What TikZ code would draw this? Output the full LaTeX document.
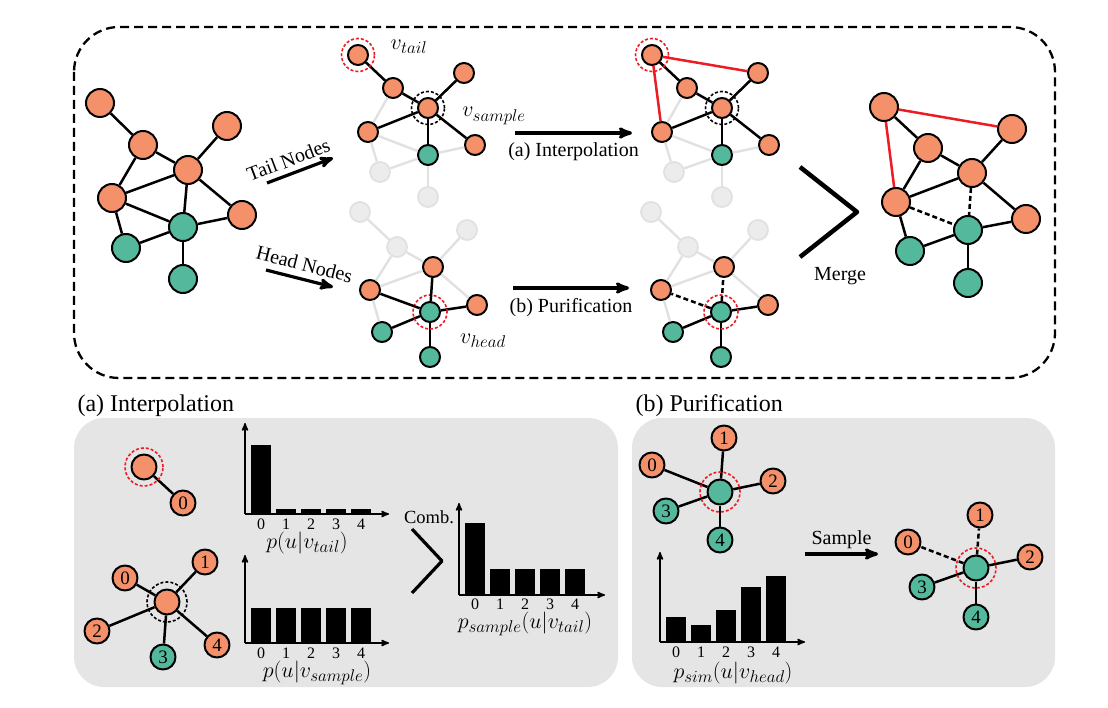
\RequirePackage{fix-cm}
\documentclass[tikz,border=0pt]{standalone}
\usepackage{fontspec}
\setmainfont{Liberation Serif}
\usepackage{amsmath}
\usepackage{tikz}
\usetikzlibrary{arrows}
\DeclareMathSizes{22}{22}{17}{13}

\definecolor{nodeorange}{RGB}{244,145,107}
\definecolor{nodegreen}{RGB}{84,185,156}
\definecolor{fadefill}{RGB}{236,236,236}
\definecolor{fadeline}{RGB}{225,225,225}
\definecolor{panelgray}{RGB}{229,229,229}
\definecolor{hlred}{RGB}{236,28,36}

\begin{document}
\begin{tikzpicture}[x=1pt,y=-1pt,>=stealth',line join=round,
                    font=\fontsize{20}{24}\selectfont]
  \tikzset{onode/.style={circle,draw,line width=2pt,fill=nodeorange,inner sep=0pt,
             font=\fontsize{19}{19}\selectfont},
           gnode/.style={onode,fill=nodegreen},
           fnode/.style={circle,draw=fadeline,line width=1.8pt,fill=fadefill,inner sep=0pt},
           lg/.style={minimum size=28pt}, md/.style={minimum size=25pt},
           sm/.style={minimum size=20pt},
           lk/.style={every edge/.style={draw,line width=2.5pt}},
           fk/.style={every edge/.style={draw=fadeline,line width=2.4pt}},
           rk/.style={every edge/.style={draw=hlred,line width=2.5pt}},
           dk/.style={every edge/.style={draw,line width=2.5pt,dash pattern=on 5pt off 3pt}},
           ring/.style={line width=1.6pt,dash pattern=on 3pt off 2pt},
           bigarrow/.style={->,line width=3.2pt},
           axis/.style={->,line width=1.6pt},
           tick/.style={font=\fontsize{16}{16}\selectfont,inner sep=0pt},
           mlabel/.style={font=\fontsize{22}{24}\selectfont,inner sep=1pt}}
  \useasboundingbox (0,0) rectangle (1108,708);

  % frame and panels
  \draw[line width=2.3pt,dash pattern=on 9pt off 5pt,rounded corners=45pt]
       (74,27) rectangle (1055,378);
  \fill[panelgray,rounded corners=30pt] (74,418) rectangle (618,687);
  \fill[panelgray,rounded corners=30pt] (632,418) rectangle (1055,687);
  \node[anchor=base west,font=\fontsize{24}{28}\selectfont] (ta) at (74,411) {(a) Interpolation};
  \node[anchor=base west,font=\fontsize{24}{28}\selectfont] (tb) at (632,411) {(b) Purification};

  % original graph
  \node[onode,lg] (a) at (100,103) {};
  \node[onode,lg] (b) at (143,145) {};
  \node[onode,lg] (c) at (227,126) {};
  \node[onode,lg] (d) at (188,170) {};
  \node[onode,lg] (e) at (112,198) {};
  \node[onode,lg] (f) at (242,215) {};
  \node[gnode,lg] (g) at (183,227) {};
  \node[gnode,lg] (h) at (126,248) {};
  \node[gnode,lg] (i) at (183,279) {};
  \path[lk] (a) edge (b) (b) edge (d) (d) edge (c) (b) edge (e) (e) edge (d) (d) edge (g)
            (d) edge (f) (e) edge (g) (e) edge (h) (h) edge (g) (g) edge (f) (g) edge (i);

  \coordinate (tn1) at (267,183); \coordinate (tn2) at (333,158);
  \coordinate (hn1) at (266,270); \coordinate (hn2) at (333,287);
  \draw[bigarrow] (tn1) -- node[pos=0.4,sloped,above=2pt] {Tail Nodes} (tn2);
  \draw[bigarrow] (hn1) -- node[pos=0.52,sloped,above=3pt] {Head Nodes} (hn2);

  % tail nodes graphs
  \foreach \dx/\p in {0/tm,294/tr}{
  \begin{scope}[xshift=\dx,name prefix=\p-]
    \node[fnode,sm] (h) at (380,172) {};
    \node[fnode,sm] (i) at (428,197) {};
    \node[onode,sm] (a) at (358,55) {};
    \node[onode,sm] (b) at (393,88) {};
    \node[onode,sm] (c) at (464,73) {};
    \node[onode,sm] (d) at (428,108) {};
    \node[onode,sm] (e) at (368,132) {};
    \node[onode,sm] (f) at (475,145) {};
    \node[gnode,sm] (g) at (428,155) {};
    \path[fk] (b) edge (e) (e) edge (g) (e) edge (h) (h) edge (g) (g) edge (f) (g) edge (i);
    \path[lk] (a) edge (b) (b) edge (d) (d) edge (c) (d) edge (e) (d) edge (f) (d) edge (g);
    \draw[ring,hlred] (a) circle (16.5pt);
    \draw[ring] (d) circle (16.5pt);
  \end{scope}}
  \path[rk] (tr-a) edge (tr-c) (tr-a) edge (tr-e);

  % head nodes graphs
  \foreach \dx/\p in {0/hm,291/hr}{
  \begin{scope}[xshift=\dx,name prefix=\p-]
    \node[fnode,sm] (a) at (360,212) {};
    \node[fnode,sm] (b) at (397,247) {};
    \node[fnode,sm] (c) at (467,230) {};
    \node[onode,sm] (d) at (433,267) {};
    \node[onode,sm] (e) at (370,290) {};
    \node[onode,sm] (f) at (477,305) {};
    \node[gnode,sm] (g) at (430,312) {};
    \node[gnode,sm] (h) at (382,332) {};
    \node[gnode,sm] (i) at (430,357) {};
    \path[fk] (a) edge (b) (b) edge (d) (d) edge (c) (b) edge (e) (e) edge (d) (d) edge (f)
              (e) edge (h);
    \path[lk] (g) edge (f) (g) edge (h) (g) edge (i);
    \draw[ring,hlred] (g) circle (17pt);
  \end{scope}}
  \path[lk] (hm-g) edge (hm-d) (hm-g) edge (hm-e);
  \path[dk] (hr-g) edge (hr-d) (hr-g) edge (hr-e);

  \node[mlabel] (vt) at (409,47) {$v_{tail}$};
  \node[mlabel] (vs) at (494,116) {$v_{sample}$};
  \node[mlabel] (vh) at (483,341) {$v_{head}$};

  \coordinate (ia1) at (515,133); \coordinate (ia2) at (632,133);
  \coordinate (pb1) at (513,288); \coordinate (pb2) at (629,288);
  \draw[bigarrow] (ia1) -- node[midway,below=5pt] {(a) Interpolation} (ia2);
  \draw[bigarrow] (pb1) -- node[midway,below=5pt] {(b) Purification} (pb2);

  % merge
  \draw[line width=4.5pt] (800,167) -- (857,212) -- (800,257);
  \node (mrg) at (840,276) {Merge};
  \node[onode,lg] (ma) at (884,107) {};
  \node[onode,lg] (mb) at (928,148) {};
  \node[onode,lg] (mc) at (1012,129) {};
  \node[onode,lg] (md) at (972,173) {};
  \node[onode,lg] (me) at (896,202) {};
  \node[onode,lg] (mf) at (1026,219) {};
  \node[gnode,lg] (mg) at (968,230) {};
  \node[gnode,lg] (mh) at (910,251) {};
  \node[gnode,lg] (mi) at (968,283) {};
  \path[lk] (ma) edge (mb) (mb) edge (md) (md) edge (mc) (mb) edge (me) (me) edge (md)
            (md) edge (mf) (me) edge (mh) (mh) edge (mg) (mg) edge (mf) (mg) edge (mi);
  \path[rk] (ma) edge (mc) (ma) edge (me);
  \path[dk] (md) edge (mg) (me) edge (mg);

  % (a) interpolation panel
  \node[onode,md] (pt) at (144,467) {};
  \node[onode,md] (p0) at (183,503) {0};
  \path[lk] (pt) edge (p0);
  \draw[ring,hlred] (pt) circle (19pt);

  \node[onode,md] (sc) at (167,602) {};
  \node[onode,md] (s0) at (125,578) {0};
  \node[onode,md] (s1) at (205,562) {1};
  \node[onode,md] (s2) at (97,631) {2};
  \node[gnode,md] (s3) at (163,657) {3};
  \node[onode,md] (s4) at (217,645) {4};
  \path[lk] (sc) edge (s0) (sc) edge (s1) (sc) edge (s2) (sc) edge (s3) (sc) edge (s4);
  \draw[ring] (sc) circle (20pt);

  \draw[axis] (245,514) -- (245,423);
  \draw[axis] (245,514) -- (389,514);
  \foreach \k/\h in {0/69,1/5,2/5,3/5,4/5}{
    \fill (251+25*\k,514) rectangle ++(19.5,-\h);
    \node[tick] (ta\k) at (261+25*\k,524) {\k};}
  \node[mlabel] (la) at (307,543) {$p(u|v_{tail})$};

  \draw[axis] (245,643) -- (245,555);
  \draw[axis] (245,643) -- (389,643);
  \foreach \k in {0,...,4}{
    \fill (251+25*\k,643) rectangle ++(19.5,-35);
    \node[tick] (tb\k) at (261+25*\k,653) {\k};}
  \node[mlabel] (lb) at (317,673) {$p(u|v_{sample})$};

  \node (cmb) at (429,517) {\fontsize{18.5}{20}\selectfont Comb.};
  \draw[line width=3.2pt] (412,529) -- (442,561) -- (412,593);

  \draw[axis] (459,595) -- (459,503);
  \draw[axis] (459,595) -- (605,595);
  \foreach \k/\h in {0/72,1/26,2/26,3/26,4/26}{
    \fill (465+25*\k,595) rectangle ++(20,-\h);
    \node[tick] (tc\k) at (475+25*\k,604) {\k};}
  \node[mlabel] (lc) at (525,624) {$p_{sample}(u|v_{tail})$};

  % (b) purification panel
  \node[gnode,md] (qc) at (720,492) {};
  \node[onode,md] (q0) at (652,465) {0};
  \node[onode,md] (q1) at (724,438) {1};
  \node[onode,md] (q2) at (773,481) {2};
  \node[gnode,md] (q3) at (666,511) {3};
  \node[gnode,md] (q4) at (720,540) {4};
  \path[lk] (qc) edge (q0) (qc) edge (q1) (qc) edge (q2) (qc) edge (q3) (qc) edge (q4);
  \draw[ring,hlred] (qc) circle (20pt);

  \draw[axis] (660,642) -- (660,552);
  \draw[axis] (660,642) -- (805,642);
  \foreach \k/\h in {0/25,1/17,2/32,3/55,4/66}{
    \fill (666+25*\k,642) rectangle ++(19.5,-\h);
    \node[tick] (td\k) at (676+25*\k,652) {\k};}
  \node[mlabel] (ld) at (733,673) {$p_{sim}(u|v_{head})$};

  \coordinate (sa1) at (805,554); \coordinate (sa2) at (878,554);
  \draw[bigarrow] (sa1) -- node[midway,above] {Sample} (sa2);

  \node[gnode,md] (rc) at (976,568) {};
  \node[onode,md] (r0) at (908,542) {0};
  \node[onode,md] (r1) at (980,515) {1};
  \node[onode,md] (r2) at (1030,557) {2};
  \node[gnode,md] (r3) at (922,587) {3};
  \node[gnode,md] (r4) at (976,617) {4};
  \path[lk] (rc) edge (r2) (rc) edge (r3) (rc) edge (r4);
  \path[dk] (rc) edge (r0) (rc) edge (r1);
  \draw[ring,hlred] (rc) circle (20pt);

\end{tikzpicture}
\end{document}
